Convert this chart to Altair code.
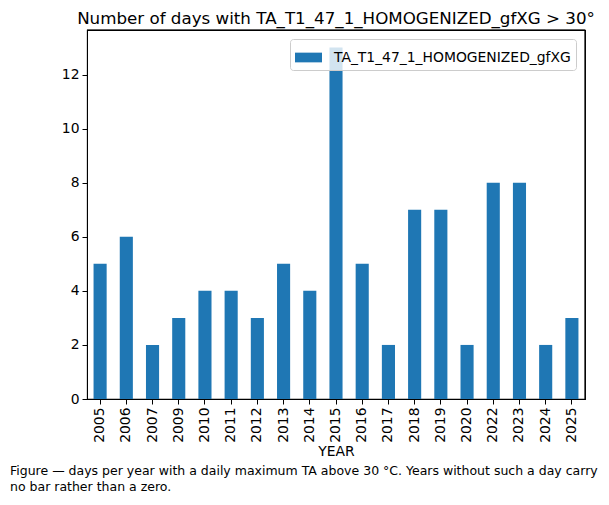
import altair as alt
import pandas as pd

years = ["2005", "2006", "2007", "2009", "2010", "2011", "2012", "2013", "2014", "2015",
         "2016", "2017", "2018", "2019", "2020", "2022", "2023", "2024", "2025"]
days = [5, 6, 2, 3, 4, 4, 3, 5, 4, 13, 5, 2, 7, 7, 2, 8, 8, 2, 3]
series_name = "TA_T1_47_1_HOMOGENIZED_gfXG"
title_text = "Number of days with TA_T1_47_1_HOMOGENIZED_gfXG > 30°"
caption_lines = [
    "Figure — days per year with a daily maximum TA above 30 °C. Years without such a day carry",
    "no bar rather than a zero.",
]

df = pd.DataFrame({"YEAR": years, "days": days, "series": series_name})
FONT = "DejaVu Sans"

axis_common = dict(labelColor="black", tickColor="black", domainColor="black",
                   tickSize=5, labelPadding=3, labelFont=FONT, labelFontSize=13.9)

y_scale = alt.Scale(domain=[0, 13.65], nice=False, zero=True)
y_axis = alt.Axis(title=None, values=[0, 2, 4, 6, 8, 10, 12], grid=False, **axis_common)

bars = alt.Chart(df).mark_bar(color="#1f77b4").encode(
    x=alt.X("YEAR:N", sort=years,
            scale=alt.Scale(paddingInner=0.5, paddingOuter=0.25),
            axis=alt.Axis(title="YEAR", labelAngle=270,
                          titleFontSize=13.9, titleFontWeight="normal",
                          titleColor="black", titlePadding=2, titleFont=FONT,
                          labelBaseline="middle", labelAlign="right", **axis_common)),
    y=alt.Y("days:Q", scale=y_scale, axis=y_axis, title=None),
    color=alt.Color("series:N", scale=alt.Scale(range=["#1f77b4"]),
                    legend=alt.Legend(title=None, orient="top-right", offset=9,
                                      labelFontSize=13.9, labelFont=FONT, labelColor="black",
                                      labelLimit=0,
                                      symbolType="M-1,-0.36H1V0.36H-1Z", symbolSize=729,
                                      symbolStrokeWidth=0, symbolOpacity=1,
                                      strokeColor="#cccccc", fillColor="rgba(255,255,255,0.8)",
                                      padding=5, cornerRadius=3, labelOffset=12)),
)

frame_df = pd.DataFrame({"days": [13.65]})
top_rule = alt.Chart(frame_df).mark_rule(color="black", strokeWidth=1.1).encode(
    y=alt.Y("days:Q", scale=y_scale, axis=y_axis, title=None),
)
right_rule = alt.Chart(frame_df).mark_rule(color="black", strokeWidth=1.1).encode(
    x=alt.value(498), y=alt.value(0), y2=alt.value(369),
)

cap_df = pd.DataFrame({"line": caption_lines, "i": list(range(len(caption_lines)))})
caption = alt.Chart(cap_df).mark_text(
    align="left", baseline="middle", fontSize=12.5, font=FONT, color="black"
).encode(
    text="line:N",
    x=alt.value(-77),
    y=alt.Y("i:Q", scale=alt.Scale(domain=[0, 1], range=[441, 457]), axis=None),
)

main = alt.layer(bars, top_rule, right_rule)

chart = alt.layer(main, caption).resolve_scale(y="independent").properties(
    width=498, height=369,
    padding={"left": 2, "top": 2, "right": 2, "bottom": 0},
    title=alt.TitleParams(title_text, fontSize=16.7, font=FONT, fontWeight="normal",
                          color="black", anchor="middle", offset=2),
).configure(background="white").configure_view(stroke="black", strokeWidth=1.1)

chart.save("out.html", embed_options={"renderer": "svg", "actions": False})
